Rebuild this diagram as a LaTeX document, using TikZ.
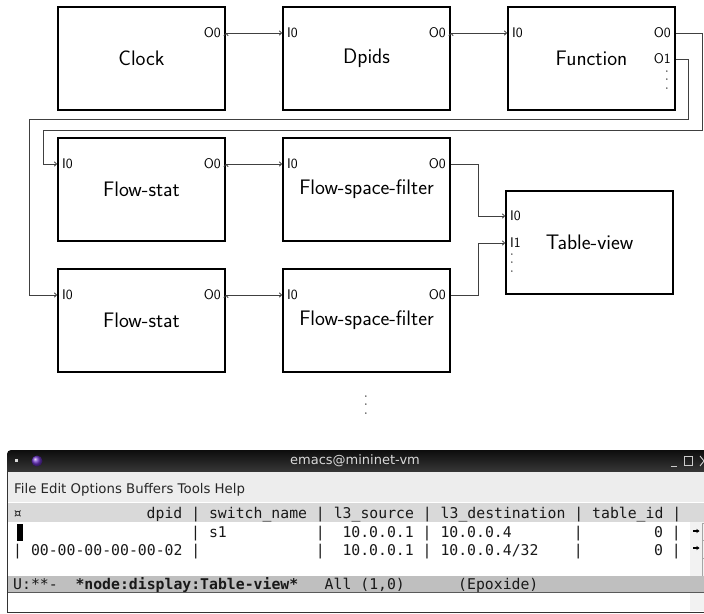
\documentclass[tikz,border=0pt]{standalone}
\usepackage{fontspec}
\setmonofont{DejaVu Sans Mono}
\newfontfamily\uifont{DejaVu Sans}
\usetikzlibrary{positioning,arrows.meta}
\tikzstyle{block}=[rectangle,draw=black,line width=2pt,minimum width=167pt,
minimum height=103pt,inner sep=0pt,font=\fontsize{21}{24}\sffamily]
\tikzstyle{port}=[inner xsep=5pt,inner ysep=0pt,font=\fontsize{14}{16}\sffamily]
\tikzstyle{link}=[draw=black!75,line width=0.8pt,-{To[length=3pt,width=5pt]}]
\tikzstyle{vdt}=[rotate=90,inner sep=0pt,font=\fontsize{14}{14}\selectfont]
\tikzstyle{cell}=[anchor=base west,inner sep=0pt,text=black!90,
font=\fontsize{14.8}{17}\ttfamily]
\newcommand{\cellx}[1]{13+#1*8.9}

\begin{document}
\begin{tikzpicture}[x=1pt,y=-1pt]
            \useasboundingbox (0,0) rectangle (704,613);

            % FIRST ROW

            \node[block,anchor=north west] (clk) at (57,6) {Clock};
            \node[block,right=56pt of clk] (dp) {Dpids};
            \node[block,right=56pt of dp] (fn) {Function};

            \node[port,anchor=east] (clko) at ([yshift=-27pt]clk.north east) {O0};
            \node[port,anchor=west] (dpi) at ([yshift=-27pt]dp.north west) {I0};
            \node[port,anchor=east] (dpo) at ([yshift=-27pt]dp.north east) {O0};
            \node[port,anchor=west] (fni) at ([yshift=-27pt]fn.north west) {I0};
            \node[port,anchor=east] (fno0) at ([yshift=-27pt]fn.north east) {O0};
            \node[port,anchor=east] (fno1) at ([yshift=-53pt]fn.north east) {O1};
            \node[vdt] (fnd) at (667,80) {.\hspace{4.6pt}.\hspace{4.6pt}.};

            \path[link] (clko.east) edge (dpi.west);
            \path[link] (dpo.east) edge (fni.west);

            % FLOW PART

            \node[block,below=26pt of clk] (fs1) {Flow-stat};
            \node[block,right=56pt of fs1] (ff1) {Flow-space-filter};
            \node[block,below=26pt of fs1] (fs2) {Flow-stat};
            \node[block,right=56pt of fs2] (ff2) {Flow-space-filter};
            \node[block,anchor=north west] (tv) at (505,190) {Table-view};

            \node[port,anchor=west] (fs1i) at ([yshift=-27pt]fs1.north west) {I0};
            \node[port,anchor=east] (fs1o) at ([yshift=-27pt]fs1.north east) {O0};
            \node[port,anchor=west] (ff1i) at ([yshift=-27pt]ff1.north west) {I0};
            \node[port,anchor=east] (ff1o) at ([yshift=-27pt]ff1.north east) {O0};
            \node[port,anchor=west] (fs2i) at ([yshift=-27pt]fs2.north west) {I0};
            \node[port,anchor=east] (fs2o) at ([yshift=-27pt]fs2.north east) {O0};
            \node[port,anchor=west] (ff2i) at ([yshift=-27pt]ff2.north west) {I0};
            \node[port,anchor=east] (ff2o) at ([yshift=-27pt]ff2.north east) {O0};
            \node[port,anchor=west] (tvi0) at ([yshift=-26pt]tv.north west) {I0};
            \node[port,anchor=west] (tvi1) at ([yshift=-53pt]tv.north west) {I1};
            \node[vdt] (tvd) at (512,263) {.\hspace{4.6pt}.\hspace{4.6pt}.};
            \node[vdt] (mored) at (366,405) {.\hspace{4.6pt}.\hspace{4.6pt}.};

            \path[link] (fs1o.east) edge (ff1i.west);
            \path[link] (fs2o.east) edge (ff2i.west);
            \draw[link] (fno0.east) -- ++(26pt,0) |- (43,130) |- (fs1i.west);
            \draw[link] (fno1.east) -- ++(12pt,0) |- (29,119) |- (fs2i.west);
            \draw[link] (ff1o.east) -- ++(27pt,0) |- (tvi0.west);
            \draw[link] (ff2o.east) -- ++(27pt,0) |- (tvi1.west);

            % EMACS PART

            \begin{scope}
            \clip (0,0) rectangle (704,613);
            \fill[white] (7,472) rectangle (712,612);
            \shade[top color=black!95,bottom color=black!78] (7,472) [rounded corners=4pt]-- (7,450)
                -- (720,450) [sharp corners]-- (720,472) -- cycle;
            \fill[black!7] (8,472) rectangle (712,502);
            \fill[black!15] (8,503) rectangle (712,522);
            \fill[black!5] (690,522) rectangle (712,611);
            \draw[black!35] (702,523) rectangle (712,540) (702,540) rectangle (712,558)
                (702,558) rectangle (712,576);
            \fill[black!25] (8,576) rectangle (712,592);
            \draw[black!65] (8,592.5) -- (712,592.5);
            \draw[black!80,line width=1.2pt] (7.5,472) -- (7.5,612.5) -- (712,612.5);

            % title bar
            \fill[black!15] (15,459) rectangle (18,462);
            \shade[ball color=blue!45!violet!80!white] (37,461) circle (5.5pt);
            \node[text=black!15,font=\fontsize{13}{15}\uifont] (ttl) at (355,461) {emacs@mininet-vm};
            \draw[black!20,line width=1pt] (671,466.5) -- (677,466.5);
            \draw[black!20,line width=0.9pt] (684,456) rectangle (692,465.5);
            \draw[black!20,line width=0.9pt] (700,456) -- (708,466) (700,466) -- (708,456);

            % menu and table
            \node[anchor=base west,inner sep=0pt,text=black!85,font=\fontsize{13.3}{15}\uifont]
                (menu) at (14,493) {File Edit Options Buffers Tools Help};
            \node[cell] (h0) at ({\cellx{0}},518.5) {¤};
            \node[cell] (h1) at ({\cellx{15}},518.5) {dpid | switch\_name | l3\_source | l3\_destination | table\_id |};

            \fill[black] ({\cellx{0}+3.5},524) rectangle ({\cellx{0}+9.5},541);
            \node[cell] (r1a) at ({\cellx{20}},537.5) {| s1};
            \node[cell] (r1b) at ({\cellx{34}},537.5) {|};
            \node[cell] (r1c) at ({\cellx{37}},537.5) {10.0.0.1 | 10.0.0.4};
            \node[cell] (r1d) at ({\cellx{63}},537.5) {|};
            \node[cell] (r1e) at ({\cellx{72}},537.5) {0 |};

            \node[cell] (r2a) at ({\cellx{0}},555.5) {| 00-00-00-00-00-02 |};
            \node[cell] (r2b) at ({\cellx{34}},555.5) {|};
            \node[cell] (r2c) at ({\cellx{37}},555.5) {10.0.0.1 | 10.0.0.4/32};
            \node[cell] (r2d) at ({\cellx{63}},555.5) {|};
            \node[cell] (r2e) at ({\cellx{72}},555.5) {0 |};

            \draw[line width=1.1pt,-{Stealth[length=3pt,width=4pt]}] (693,531) -- (699.5,531);
            \draw[line width=1.1pt,-{Stealth[length=3pt,width=4pt]}] (693,548) -- (699.5,548);

            % mode line
            \node[cell] (m0) at ({\cellx{0}},589) {U:**-};
            \node[cell,font=\fontsize{14.8}{17}\ttfamily\bfseries] (m1) at ({\cellx{7}},589) {*node:display:Table-view*};
            \node[cell] (m2) at ({\cellx{35}},589) {All (1,0)};
            \node[cell] (m3) at ({\cellx{50}},589) {(Epoxide)};
            \end{scope}

        \end{tikzpicture}
\end{document}
